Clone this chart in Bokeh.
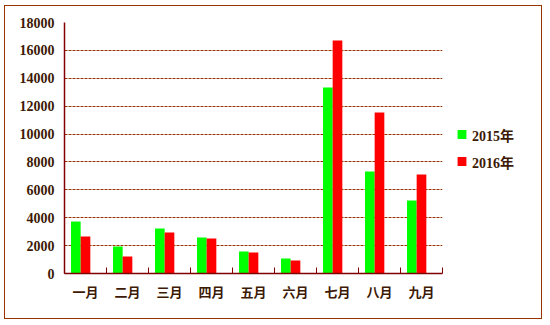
from bokeh.plotting import figure
from bokeh.models import ColumnDataSource, FixedTicker, Legend, LegendItem, Range1d
from bokeh.embed import file_html
from bokeh.resources import INLINE

months = ["一月", "二月", "三月", "四月", "五月", "六月", "七月", "八月", "九月"]
series_2015 = [3730, 1940, 3230, 2580, 1580, 1080, 13340, 7320, 5240]
series_2016 = [2650, 1220, 2940, 2510, 1510, 930, 16710, 11550, 7100]
y_ticks = [0, 2000, 4000, 6000, 8000, 10000, 12000, 14000, 16000, 18000]
series_names = ["2015年", "2016年"]

idx = list(range(len(months)))
bar_w = 0.23
src = ColumnDataSource(dict(
    x15=[i + 0.5 - bar_w for i in idx],
    x16=[i + 0.5 for i in idx],
    v15=series_2015,
    v16=series_2016,
))

TEXT = "#3d1a05"
AXIS = "#800000"
GRID = "#993300"
FONT = "'Liberation Serif', 'Noto Sans CJK SC', serif"

p = figure(frame_width=378, frame_height=251, output_backend="svg", toolbar_location=None,
           x_range=Range1d(0, len(months)), y_range=Range1d(0, 18000),
           min_border_left=59, min_border_right=101, min_border_top=16, min_border_bottom=47)
p.margin = (5, 0, 0, 4)
p.styles = {"border": "1px solid #993300", "width": "538px", "height": "314px",
            "overflow": "hidden"}
p.outline_line_color = None
p.background_fill_color = "white"
p.border_fill_color = "white"

r15 = p.vbar(x="x15", top="v15", width=bar_w, source=src, fill_color="#00ff00", line_color=None)
r16 = p.vbar(x="x16", top="v16", width=bar_w, source=src, fill_color="#ff0000", line_color=None)

# x axis
p.xaxis.ticker = FixedTicker(ticks=[i + 0.5 for i in idx], minor_ticks=list(range(len(months) + 1)))
p.xaxis.major_label_overrides = {i + 0.5: m for i, m in zip(idx, months)}
p.xaxis.major_tick_in = 0
p.xaxis.major_tick_out = 0
p.xaxis.minor_tick_in = 6
p.xaxis.minor_tick_out = 0
p.xaxis.minor_tick_line_color = AXIS
p.xaxis.axis_line_color = AXIS
p.xaxis.axis_line_width = 1.5
p.xaxis.major_label_text_font = FONT
p.xaxis.major_label_text_font_size = "13px"
p.xaxis.major_label_text_font_style = "bold"
p.xaxis.major_label_text_color = TEXT
p.xaxis.major_label_standoff = 11

# y axis
p.yaxis.ticker = FixedTicker(ticks=y_ticks)
p.yaxis.major_tick_in = 0
p.yaxis.major_tick_out = 0
p.yaxis.minor_tick_line_color = None
p.yaxis.axis_line_color = AXIS
p.yaxis.axis_line_width = 1.5
p.yaxis.major_label_text_font = FONT
p.yaxis.major_label_text_font_size = "14px"
p.yaxis.major_label_text_font_style = "bold"
p.yaxis.major_label_text_color = TEXT
p.yaxis.major_label_standoff = 10

p.xgrid.grid_line_color = None
p.ygrid.grid_line_color = GRID
p.ygrid.grid_line_dash = "3 1"
p.ygrid.grid_line_width = 1

legend = Legend(items=[LegendItem(label=series_names[0], renderers=[r15]),
                       LegendItem(label=series_names[1], renderers=[r16])],
                location="center_left", orientation="vertical")
legend.padding = 0
legend.margin = 14
legend.spacing = 7
legend.glyph_width = 11
legend.glyph_height = 11
legend.label_height = 11
legend.label_standoff = 5
legend.border_line_color = None
legend.background_fill_alpha = 0
legend.label_text_font = FONT
legend.label_text_font_size = "14px"
legend.label_text_font_style = "bold"
legend.label_text_color = TEXT
p.add_layout(legend, "right")

open("out.html", "w").write(file_html(p, INLINE))
